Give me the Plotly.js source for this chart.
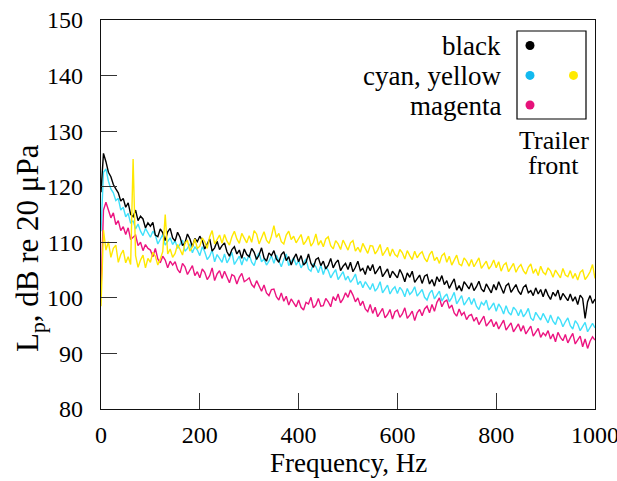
<!DOCTYPE html>
<html>
<head>
<meta charset="utf-8">
<script src="https://cdn.plot.ly/plotly-3.0.1.min.js"></script>
<style>html,body{margin:0;padding:0;background:#fff;}#chart{width:617px;height:481px;}</style>
</head>
<body>
<div id="chart"></div>
<script>
// Frequencies 0..1000 Hz, 5 Hz step
const freqStep = 5;
const freqMax = 1000;
const freq = [];
for (let f = 0; f <= freqMax; f += freqStep) freq.push(f);

const xTicks = [0, 200, 400, 600, 800, 1000];
const yTicks = [80, 90, 100, 110, 120, 130, 140, 150];

const black = [
119.0,126.0,124.5,122.6,121.8,120.4,119.6,118.9,117.4,117.9,
116.3,117.1,115.0,114.6,115.8,113.9,114.7,114.2,112.6,113.5,
112.9,113.6,111.3,111.0,112.4,111.7,110.3,111.9,112.5,110.8,
110.2,111.8,110.9,109.4,109.9,111.5,110.6,109.2,110.7,110.1,
111.1,110.3,108.8,109.6,110.6,108.4,109.0,110.2,108.7,109.4,
109.9,108.3,107.5,108.7,109.2,107.9,108.6,107.1,108.8,107.8,
107.4,108.9,108.2,106.9,107.7,109.0,107.2,106.6,108.1,107.6,
108.5,107.0,106.4,107.8,108.3,106.7,107.4,105.9,107.1,107.9,
106.5,107.6,105.9,106.4,107.9,106.2,105.5,106.9,107.2,105.8,
106.6,105.2,105.9,107.1,105.4,106.3,106.8,104.9,105.7,106.2,
105.1,106.4,104.7,105.5,106.6,104.9,105.3,104.2,105.8,104.9,
106.0,104.3,104.9,105.7,103.8,104.6,105.2,103.6,104.8,104.2,
103.6,105.1,104.2,102.9,104.5,103.7,104.8,102.8,103.5,104.1,
102.6,103.9,104.2,102.5,103.3,102.1,103.8,102.9,104.0,102.4,
103.1,101.7,102.6,103.4,101.4,102.2,101.2,102.9,102.3,101.6,
102.7,101.3,102.0,103.0,101.6,101.1,102.5,101.8,100.9,102.4,
101.4,102.9,101.9,100.8,102.2,102.6,101.0,101.7,102.4,101.2,
100.6,101.9,102.3,100.9,101.3,100.4,101.8,100.7,101.5,100.2,
101.6,100.5,99.7,101.0,100.3,101.4,99.6,100.8,100.1,99.5,
100.7,99.4,100.2,98.8,100.5,99.9,96.3,99.3,100.4,99.0,
99.8];

const cyan = [
112.0,122.6,123.2,121.0,119.6,118.9,117.5,117.9,115.8,116.3,
114.6,115.2,113.4,113.9,112.4,113.3,112.0,111.2,112.5,111.6,
110.9,112.0,111.3,109.7,110.6,111.4,109.5,110.1,110.8,109.6,
110.3,108.9,109.6,110.4,108.4,108.9,109.7,108.1,109.2,108.6,
107.6,109.2,108.3,106.9,107.5,108.6,106.5,107.8,107.1,106.4,
107.9,106.3,107.1,108.2,106.0,106.8,107.5,105.9,107.3,106.6,
107.8,106.4,105.8,107.3,108.1,106.5,107.0,105.9,106.6,107.6,
106.2,107.7,106.8,105.6,106.9,107.9,105.8,106.4,107.2,105.9,
106.7,105.4,106.1,107.0,105.2,104.8,106.2,105.6,104.5,105.9,
104.2,105.6,104.9,103.6,104.4,105.1,103.3,104.0,104.7,103.2,
103.9,102.8,103.4,104.3,102.4,103.0,101.8,102.9,102.2,101.5,
102.6,101.2,101.8,102.9,100.9,101.6,102.3,100.7,101.5,102.0,
100.8,101.9,101.3,100.2,101.7,100.6,101.1,102.0,100.3,100.9,
101.5,100.1,99.6,100.8,101.4,99.8,100.5,101.2,99.4,100.2,
100.7,99.3,100.0,101.0,98.9,99.6,100.4,98.7,99.5,100.1,
98.8,99.9,98.5,97.9,99.2,98.7,99.6,97.8,98.4,99.1,
97.6,98.9,98.2,97.1,98.6,97.4,96.9,98.3,97.8,96.8,
97.9,96.6,97.2,98.1,96.4,95.9,97.4,96.8,96.0,97.2,
96.3,95.5,96.9,95.8,95.2,96.6,96.0,94.8,95.7,96.4,
95.0,94.4,95.9,95.3,94.1,94.9,95.6,93.9,94.6,95.4,
94.6];

const magenta = [
101.0,115.8,117.2,115.9,114.4,115.3,113.2,113.9,112.1,112.8,
111.4,112.6,110.5,110.9,111.3,109.4,110.0,108.5,109.6,108.9,
108.6,107.4,108.9,107.0,106.3,107.5,106.8,105.4,106.6,105.9,
106.5,105.1,104.5,106.2,105.6,104.2,105.0,105.8,104.0,104.7,
103.6,105.2,104.6,103.3,104.0,105.4,103.1,104.3,104.9,103.5,
104.8,103.6,102.7,104.2,103.9,102.5,103.7,104.4,102.9,103.2,
103.6,102.4,101.9,103.1,102.0,101.2,102.3,100.9,100.4,101.5,
101.6,100.2,99.6,100.9,99.4,100.3,98.7,99.8,99.1,98.4,
99.6,98.3,97.8,99.2,98.9,100.1,98.2,98.7,99.9,98.5,
98.6,99.9,99.3,98.4,100.2,99.5,100.7,99.1,99.8,100.9,
100.1,101.4,100.5,99.3,100.0,98.6,99.4,98.0,97.5,98.8,
97.2,98.3,96.6,97.4,98.1,96.4,97.0,97.9,96.2,97.5,
97.8,96.5,97.1,98.2,96.3,96.9,97.6,95.9,97.3,97.9,
96.8,98.0,98.5,97.3,98.8,97.6,99.2,100.0,98.4,99.3,
99.6,98.1,98.7,97.3,96.7,98.0,96.9,97.4,96.1,96.8,
97.0,95.8,96.5,95.2,95.9,96.7,94.9,95.6,96.1,94.8,
95.7,94.4,95.1,96.0,94.2,94.8,95.5,93.9,94.6,95.3,
94.0,95.0,93.5,94.3,94.9,93.1,93.8,94.5,92.9,93.7,
93.2,94.1,92.6,93.5,92.1,93.8,92.9,92.3,93.4,91.9,
92.8,93.6,91.7,92.4,93.1,91.2,92.6,90.9,92.2,93.0,
92.4];

const yellow = [
98.5,112.2,108.6,110.1,107.3,108.9,109.5,106.4,107.8,108.6,
106.3,107.4,106.0,125.0,107.6,105.5,106.8,107.7,105.4,107.1,
106.4,108.2,107.5,105.9,107.0,108.3,115.0,107.9,108.8,107.3,
108.0,109.6,108.7,107.7,109.9,110.3,108.4,109.2,110.6,108.9,
109.3,110.8,110.1,108.9,111.0,112.1,109.7,110.4,111.3,109.8,
111.4,110.2,109.5,111.0,112.0,110.6,109.8,111.6,110.8,109.9,
111.2,110.0,112.1,111.5,109.7,110.8,111.9,110.4,109.8,111.1,
113.0,110.9,111.6,110.1,109.7,111.3,112.0,110.5,111.1,109.9,
110.6,111.4,109.6,110.2,111.1,109.3,110.0,111.5,109.5,110.3,
109.2,110.6,111.0,109.4,108.8,110.3,109.7,108.7,110.4,109.5,
108.6,109.9,110.3,108.4,109.1,108.2,109.8,108.9,108.0,109.4,
109.3,107.9,108.6,109.6,107.6,108.3,109.1,107.5,108.8,107.8,
107.4,108.7,108.1,107.0,108.5,107.6,106.9,108.4,107.2,107.9,
108.3,107.1,106.5,107.8,108.4,106.7,107.3,106.2,107.6,108.0,
106.4,107.5,105.9,106.8,107.7,106.1,105.8,107.2,106.6,105.7,
106.9,105.6,106.3,107.2,105.3,106.0,106.6,105.2,105.8,106.8,
105.4,106.5,104.8,105.9,106.3,104.7,105.6,106.2,104.6,105.5,
106.0,104.9,104.3,105.5,106.1,104.4,105.2,104.0,105.7,104.6,
104.2,105.4,104.8,103.7,105.0,104.3,103.6,105.3,104.1,103.8,
104.9,103.5,104.4,103.2,104.6,105.0,103.3,103.9,104.7,106.0,
103.5];

const seriesNames = ['magenta', 'cyan', 'black', 'yellow'];
const seriesData = {black: black, cyan: cyan, magenta: magenta, yellow: yellow};
const seriesColors = {black: '#000000', cyan: '#40e0fa', magenta: '#ec1480', yellow: '#ffe800'};
const dotColors = {black: '#000000', cyan: '#12b9ef', magenta: '#e6127a', yellow: '#ffea00'};

const FONT = '"Liberation Serif", "Times New Roman", Times, serif';
const mkFont = size => ({family: FONT, size: size, color: '#000'});

const traces = seriesNames.map(n => ({
  x: freq, y: seriesData[n], type: 'scatter', mode: 'lines', name: n,
  line: {color: seriesColors[n], width: 1.4}, hoverinfo: 'skip'
}));

// Geometry helpers (pixel -> paper)
const L = 101, R = 22, T = 20, B = 72, W = 617, H = 481;
const pw = W - L - R, ph = H - T - B;
const px = v => (v - L) / pw;
const py = v => (H - B - v) / ph;

function dot(cx, cy, color) {
  return {type: 'circle', xref: 'paper', yref: 'paper', xsizemode: 'pixel', ysizemode: 'pixel',
    xanchor: px(cx), yanchor: py(cy), x0: -4.5, x1: 4.5, y0: -4.5, y1: 4.5,
    fillcolor: color, line: {width: 0}};
}

const shapes = [
  {type: 'rect', xref: 'paper', yref: 'paper', x0: px(517), x1: px(586), y0: py(119), y1: py(31),
   line: {color: '#000', width: 1.2}, fillcolor: 'rgba(0,0,0,0)'},
  dot(530, 45.5, dotColors.black),
  dot(530, 75.4, dotColors.cyan),
  dot(573.5, 75.4, dotColors.yellow),
  dot(530, 105, dotColors.magenta)
];

function txt(text, xp, yp, xanchor, size, extra) {
  return Object.assign({text: text, xref: 'paper', yref: 'paper', x: px(xp), y: py(yp),
    xanchor: xanchor, yanchor: 'middle', showarrow: false, font: mkFont(size)}, extra || {});
}

const annotations = [
  txt('black', 503, 46, 'right', 27),
  txt('cyan, yellow', 503, 76, 'right', 27),
  txt('magenta', 503, 106, 'right', 27),
  txt('Trailer', 553.5, 140, 'center', 26),
  txt('front', 553.5, 165, 'center', 26),
  txt('Frequency, Hz', 348, 463, 'center', 27),
  txt('L<sub>p</sub>, dB re 20 μPa', 30, 248, 'center', 31, {textangle: -90})
];

const axisCommon = {ticks: 'inside', ticklen: 16, tickwidth: 1, tickcolor: '#333',
  showline: true, linecolor: '#111', linewidth: 1.3, mirror: true,
  showgrid: false, zeroline: false, tickfont: mkFont(24)};

const layout = {
  width: W, height: H,
  margin: {l: L, r: R, t: T, b: B, pad: 0},
  paper_bgcolor: '#fff', plot_bgcolor: '#fff',
  showlegend: false,
  font: mkFont(24),
  xaxis: Object.assign({}, axisCommon, {range: [0, 1000], tickvals: xTicks, ticktext: xTicks.map(String),
    ticklabelstandoff: 4, ticklabeloverflow: 'allow'}),
  yaxis: Object.assign({}, axisCommon, {range: [80, 150], tickvals: yTicks, ticktext: yTicks.map(String),
    ticklabelstandoff: 12}),
  shapes: shapes,
  annotations: annotations
};

Plotly.newPlot('chart', traces, layout, {staticPlot: true, displayModeBar: false});
</script>
</body>
</html>
